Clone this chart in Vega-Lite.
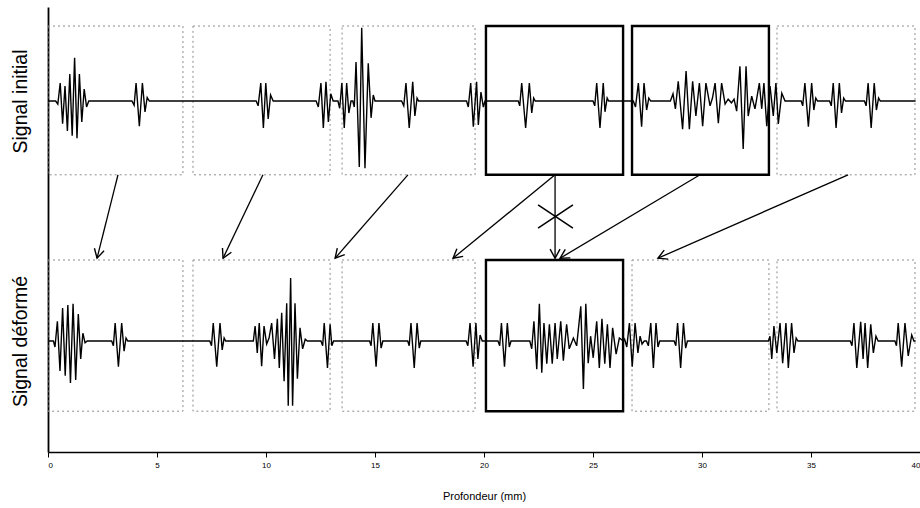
{
  "$schema": "https://vega.github.io/schema/vega-lite/v6.json",
  "width": 872,
  "height": 445,
  "autosize": "none",
  "padding": {"left": 48, "top": 7, "right": 0, "bottom": 56},
  "background": "white",
  "config": {"view": {"stroke": null}},
  "datasets": {
    "top": [
      {"x":0,"y":2},
      {"x":0.35,"y":2},{"x":0.45,"y":1.95},{"x":0.56,"y":2.3},{"x":0.67,"y":1.62},{"x":0.78,"y":2.25},{"x":0.89,"y":1.5},{"x":1.0,"y":2.45},{"x":1.11,"y":1.42},{"x":1.22,"y":2.72},{"x":1.33,"y":1.38},{"x":1.44,"y":2.45},{"x":1.55,"y":1.65},{"x":1.66,"y":2.2},{"x":1.77,"y":1.9},{"x":1.87,"y":2},
      {"x":3.85,"y":2},{"x":3.95,"y":1.93},{"x":4.04,"y":2.3},{"x":4.19,"y":1.58},{"x":4.33,"y":2.3},{"x":4.45,"y":1.82},{"x":4.55,"y":2.06},{"x":4.65,"y":2},
      {"x":9.55,"y":2},{"x":9.64,"y":1.92},{"x":9.76,"y":2.3},{"x":9.88,"y":1.55},{"x":9.99,"y":2.3},{"x":10.1,"y":1.7},{"x":10.21,"y":2.1},{"x":10.33,"y":2},
      {"x":12.3,"y":2},{"x":12.4,"y":1.9},{"x":12.52,"y":2.3},{"x":12.63,"y":1.55},{"x":12.75,"y":2.32},{"x":12.86,"y":1.65},{"x":12.97,"y":2.12},{"x":13.08,"y":2},
      {"x":13.3,"y":2},{"x":13.38,"y":1.88},{"x":13.48,"y":2.3},{"x":13.59,"y":1.55},{"x":13.7,"y":2.3},{"x":13.8,"y":1.8},{"x":13.9,"y":2},
      {"x":13.98,"y":2},{"x":14.05,"y":1.9},{"x":14.13,"y":2.65},{"x":14.28,"y":0.9},{"x":14.39,"y":3.22},{"x":14.54,"y":0.88},{"x":14.69,"y":2.63},{"x":14.82,"y":1.72},{"x":14.92,"y":2.1},{"x":15.0,"y":2},
      {"x":16.22,"y":2},{"x":16.32,"y":1.92},{"x":16.42,"y":2.3},{"x":16.57,"y":1.55},{"x":16.73,"y":2.32},{"x":16.83,"y":1.75},{"x":16.93,"y":2.05},{"x":17.0,"y":2},
      {"x":19.2,"y":2},{"x":19.28,"y":1.9},{"x":19.39,"y":2.3},{"x":19.51,"y":1.57},{"x":19.66,"y":2.32},{"x":19.74,"y":1.6},{"x":19.86,"y":2.15},{"x":19.97,"y":1.9},{"x":20.05,"y":2},
      {"x":21.57,"y":2},{"x":21.64,"y":1.92},{"x":21.73,"y":2.3},{"x":21.91,"y":1.55},{"x":22.08,"y":2.3},{"x":22.19,"y":1.8},{"x":22.28,"y":2.05},{"x":22.35,"y":2},
      {"x":25.0,"y":2},{"x":25.08,"y":1.92},{"x":25.17,"y":2.3},{"x":25.32,"y":1.55},{"x":25.47,"y":2.3},{"x":25.55,"y":1.82},{"x":25.65,"y":2.05},{"x":25.72,"y":2},
      {"x":26.85,"y":2},{"x":26.95,"y":1.9},{"x":27.08,"y":2.3},{"x":27.23,"y":1.57},{"x":27.34,"y":2.3},{"x":27.46,"y":1.85},{"x":27.56,"y":2.05},{"x":27.65,"y":2},
      {"x":28.55,"y":2},{"x":28.67,"y":2.12},{"x":28.78,"y":1.87},{"x":28.91,"y":2.33},{"x":29.11,"y":1.53},{"x":29.27,"y":2.5},{"x":29.42,"y":1.53},{"x":29.57,"y":2.33},{"x":29.72,"y":1.75},{"x":29.88,"y":2.3},{"x":30.03,"y":1.58},{"x":30.18,"y":2.3},{"x":30.37,"y":1.92},{"x":30.48,"y":2.05},{"x":30.6,"y":2.3},{"x":30.75,"y":1.63},{"x":30.9,"y":2.3},{"x":31.06,"y":1.95},{"x":31.2,"y":2.03},{"x":31.35,"y":1.97},{"x":31.47,"y":2.03},{"x":31.59,"y":1.83},{"x":31.74,"y":2.58},{"x":31.89,"y":1.2},{"x":32.02,"y":2.58},{"x":32.12,"y":1.75},{"x":32.28,"y":2.08},{"x":32.43,"y":1.87},{"x":32.63,"y":2.3},{"x":32.74,"y":1.87},{"x":32.84,"y":2.3},{"x":32.97,"y":1.58},{"x":33.12,"y":2.25},{"x":33.27,"y":1.75},{"x":33.39,"y":2.3},{"x":33.5,"y":1.62},{"x":33.66,"y":2.13},{"x":33.81,"y":2},
      {"x":34.55,"y":2},{"x":34.62,"y":1.92},{"x":34.72,"y":2.3},{"x":34.88,"y":1.57},{"x":35.03,"y":2.3},{"x":35.13,"y":1.85},{"x":35.22,"y":2.05},{"x":35.3,"y":2},
      {"x":35.85,"y":2},{"x":35.93,"y":1.92},{"x":36.02,"y":2.3},{"x":36.15,"y":1.55},{"x":36.3,"y":2.3},{"x":36.4,"y":1.8},{"x":36.5,"y":2.05},{"x":36.58,"y":2},
      {"x":37.45,"y":2},{"x":37.53,"y":1.92},{"x":37.62,"y":2.3},{"x":37.76,"y":1.55},{"x":37.9,"y":2.3},{"x":38.0,"y":1.85},{"x":38.1,"y":2.05},{"x":38.18,"y":2},
      {"x":39.8,"y":2}
    ],
    "bot": [
      {"x":0,"y":-2},
      {"x":0.25,"y":-2},{"x":0.32,"y":-2.1},{"x":0.43,"y":-1.67},{"x":0.55,"y":-2.5},{"x":0.67,"y":-1.45},{"x":0.79,"y":-2.58},{"x":0.91,"y":-1.4},{"x":1.03,"y":-2.7},{"x":1.15,"y":-1.38},{"x":1.27,"y":-2.65},{"x":1.39,"y":-1.55},{"x":1.5,"y":-2.3},{"x":1.6,"y":-1.87},{"x":1.7,"y":-2.03},{"x":1.8,"y":-2},
      {"x":2.92,"y":-2},{"x":3.0,"y":-2.08},{"x":3.08,"y":-1.7},{"x":3.23,"y":-2.43},{"x":3.38,"y":-1.7},{"x":3.49,"y":-2.17},{"x":3.58,"y":-1.95},{"x":3.66,"y":-2},
      {"x":7.42,"y":-2},{"x":7.5,"y":-2.08},{"x":7.58,"y":-1.7},{"x":7.74,"y":-2.43},{"x":7.89,"y":-1.7},{"x":7.99,"y":-2.15},{"x":8.08,"y":-1.95},{"x":8.15,"y":-2},
      {"x":9.42,"y":-2},{"x":9.5,"y":-1.75},{"x":9.6,"y":-2.2},{"x":9.69,"y":-1.7},{"x":9.8,"y":-2.42},{"x":9.91,"y":-1.75},{"x":10.03,"y":-2.05},{"x":10.14,"y":-1.95},{"x":10.26,"y":-1.7},{"x":10.39,"y":-2.3},{"x":10.52,"y":-1.63},{"x":10.61,"y":-2.45},{"x":10.72,"y":-1.53},{"x":10.83,"y":-2.67},{"x":10.95,"y":-1.37},{"x":11.02,"y":-3.08},{"x":11.13,"y":-0.95},{"x":11.22,"y":-3.08},{"x":11.33,"y":-1.37},{"x":11.44,"y":-2.63},{"x":11.56,"y":-1.78},{"x":11.68,"y":-2.13},{"x":11.8,"y":-1.97},{"x":11.9,"y":-2},
      {"x":12.52,"y":-2},{"x":12.6,"y":-2.08},{"x":12.67,"y":-1.7},{"x":12.82,"y":-2.45},{"x":12.94,"y":-1.72},{"x":13.02,"y":-2.08},{"x":13.1,"y":-2},
      {"x":14.75,"y":-2},{"x":14.82,"y":-2.08},{"x":14.9,"y":-1.7},{"x":15.05,"y":-2.43},{"x":15.18,"y":-1.7},{"x":15.28,"y":-2.12},{"x":15.36,"y":-2},
      {"x":16.5,"y":-2},{"x":16.57,"y":-2.08},{"x":16.65,"y":-1.7},{"x":16.8,"y":-2.45},{"x":16.93,"y":-1.7},{"x":17.03,"y":-2.12},{"x":17.1,"y":-2},
      {"x":19.18,"y":-2},{"x":19.26,"y":-2.08},{"x":19.36,"y":-1.7},{"x":19.5,"y":-2.43},{"x":19.63,"y":-1.7},{"x":19.72,"y":-2.3},{"x":19.82,"y":-1.9},{"x":19.92,"y":-2},
      {"x":20.64,"y":-2},{"x":20.72,"y":-2.08},{"x":20.8,"y":-1.7},{"x":20.94,"y":-2.43},{"x":21.07,"y":-1.7},{"x":21.16,"y":-2.1},{"x":21.24,"y":-2},
      {"x":22.1,"y":-2},{"x":22.19,"y":-2.13},{"x":22.29,"y":-1.67},{"x":22.42,"y":-2.47},{"x":22.54,"y":-1.38},{"x":22.65,"y":-2.53},{"x":22.75,"y":-1.7},{"x":22.88,"y":-2.38},{"x":23.0,"y":-1.72},{"x":23.13,"y":-2.38},{"x":23.26,"y":-1.7},{"x":23.36,"y":-2.3},{"x":23.52,"y":-1.67},{"x":23.64,"y":-2.33},{"x":23.79,"y":-1.72},{"x":23.91,"y":-2.13},{"x":24.1,"y":-1.95},{"x":24.25,"y":-2.08},{"x":24.44,"y":-1.42},{"x":24.56,"y":-2.8},{"x":24.67,"y":-1.38},{"x":24.78,"y":-2.37},{"x":24.89,"y":-1.92},{"x":25.01,"y":-2.28},{"x":25.17,"y":-1.67},{"x":25.29,"y":-2.45},{"x":25.41,"y":-1.63},{"x":25.54,"y":-2.38},{"x":25.66,"y":-1.72},{"x":25.78,"y":-2.45},{"x":25.9,"y":-1.78},{"x":26.06,"y":-2.22},{"x":26.21,"y":-1.95},{"x":26.39,"y":-2},
      {"x":26.45,"y":-1.97},{"x":26.55,"y":-2.1},{"x":26.67,"y":-1.7},{"x":26.8,"y":-2.43},{"x":26.93,"y":-1.7},{"x":27.06,"y":-2.2},{"x":27.16,"y":-1.92},{"x":27.25,"y":-2.05},{"x":27.35,"y":-2},
      {"x":27.45,"y":-2},{"x":27.54,"y":-2.08},{"x":27.65,"y":-1.7},{"x":27.77,"y":-2.45},{"x":27.89,"y":-1.7},{"x":27.98,"y":-2.1},{"x":28.06,"y":-2},
      {"x":28.72,"y":-2},{"x":28.8,"y":-2.08},{"x":28.88,"y":-1.7},{"x":29.02,"y":-2.45},{"x":29.15,"y":-1.7},{"x":29.25,"y":-2.12},{"x":29.33,"y":-2},
      {"x":33.05,"y":-2},{"x":33.12,"y":-1.92},{"x":33.2,"y":-2.3},{"x":33.3,"y":-1.75},{"x":33.43,"y":-2.2},{"x":33.58,"y":-1.7},{"x":33.7,"y":-2.37},{"x":33.85,"y":-1.7},{"x":33.96,"y":-2.45},{"x":34.11,"y":-1.7},{"x":34.22,"y":-2.2},{"x":34.32,"y":-1.95},{"x":34.4,"y":-2},
      {"x":36.8,"y":-2},{"x":36.88,"y":-2.08},{"x":36.97,"y":-1.7},{"x":37.1,"y":-2.45},{"x":37.28,"y":-1.68},{"x":37.39,"y":-2.3},{"x":37.48,"y":-1.7},{"x":37.6,"y":-2.45},{"x":37.74,"y":-1.72},{"x":37.86,"y":-2.2},{"x":37.98,"y":-1.92},{"x":38.08,"y":-2},
      {"x":38.85,"y":-2},{"x":38.92,"y":-2.08},{"x":39.0,"y":-1.7},{"x":39.16,"y":-2.43},{"x":39.31,"y":-1.7},{"x":39.46,"y":-2.25},{"x":39.62,"y":-1.9},{"x":39.72,"y":-2},{"x":39.8,"y":-2}
    ],
    "dash": [
      {"x":0,"x2":6.19,"y":0.77,"y2":3.25},
      {"x":6.65,"x2":12.94,"y":0.77,"y2":3.25},
      {"x":13.49,"x2":19.59,"y":0.77,"y2":3.25},
      {"x":33.44,"x2":39.77,"y":0.77,"y2":3.25},
      {"x":0,"x2":6.19,"y":-3.17,"y2":-0.65},
      {"x":6.65,"x2":12.94,"y":-3.17,"y2":-0.65},
      {"x":13.49,"x2":19.59,"y":-3.17,"y2":-0.65},
      {"x":26.79,"x2":33.07,"y":-3.17,"y2":-0.65},
      {"x":33.44,"x2":39.77,"y":-3.17,"y2":-0.65}
    ],
    "solid": [
      {"x":20.09,"x2":26.38,"y":0.77,"y2":3.25},
      {"x":26.79,"x2":33.07,"y":0.77,"y2":3.25},
      {"x":20.09,"x2":26.38,"y":-3.17,"y2":-0.65}
    ],
    "arrows": [
      {"x":3.21,"y":0.77,"x2":2.25,"y2":-0.62},
      {"x":9.86,"y":0.77,"x2":8.03,"y2":-0.62},
      {"x":16.51,"y":0.77,"x2":13.17,"y2":-0.62},
      {"x":23.26,"y":0.77,"x2":18.58,"y2":-0.62},
      {"x":23.26,"y":0.77,"x2":23.26,"y2":-0.62},
      {"x":29.91,"y":0.77,"x2":23.49,"y2":-0.62},
      {"x":36.7,"y":0.77,"x2":27.98,"y2":-0.62}
    ],
    "cross": [
      {"x":22.48,"y":0.267,"x2":24.08,"y2":-0.117},
      {"x":22.48,"y":-0.117,"x2":24.08,"y2":0.267}
    ]
  },
  "encoding": {
    "x": {
      "field": "x", "type": "quantitative",
      "scale": {"domain": [0, 40], "nice": false, "zero": false},
      "axis": {
        "values": [0, 5, 10, 15, 20, 25, 30, 35, 40],
        "format": "d",
        "grid": false,
        "domainColor": "black", "domainWidth": 1.5,
        "tickColor": "black", "tickSize": 5, "tickWidth": 1,
        "labelFont": "Liberation Sans", "labelFontSize": 8, "labelColor": "black",
        "labelFlush": true, "labelPadding": 4, "labelOverlap": false,
        "title": "Profondeur (mm)",
        "titleFont": "Liberation Sans", "titleFontSize": 11, "titleFontWeight": "normal", "titleColor": "black",
        "titlePadding": 21
      }
    },
    "y": {
      "field": "y", "type": "quantitative",
      "scale": {"domain": [-3.85, 3.567], "nice": false, "zero": false},
      "axis": {
        "values": [2, -2],
        "labelExpr": "datum.value > 0 ? 'Signal initial' : 'Signal déformé'",
        "labelAngle": -90,
        "labelAlign": "center",
        "labelBaseline": "bottom",
        "labelPadding": 18,
        "labelFont": "Liberation Sans",
        "labelFontSize": 19.5,
        "labelColor": "black",
        "labelOverlap": false,
        "labelBound": false,
        "ticks": false,
        "grid": false,
        "domainColor": "black", "domainWidth": 1.8,
        "title": null
      }
    }
  },
  "layer": [
    {
      "data": {"name": "dash"},
      "mark": {"type": "rect", "filled": false, "stroke": "#8c8c8c", "strokeWidth": 1, "strokeDash": [2, 3]},
      "encoding": {"x2": {"field": "x2"}, "y2": {"field": "y2"}}
    },
    {
      "data": {"name": "top"},
      "mark": {"type": "line", "stroke": "black", "strokeWidth": 1.4}
    },
    {
      "data": {"name": "bot"},
      "mark": {"type": "line", "stroke": "black", "strokeWidth": 1.4}
    },
    {
      "data": {"name": "solid"},
      "mark": {"type": "rect", "filled": false, "stroke": "black", "strokeWidth": 2.4},
      "encoding": {"x2": {"field": "x2"}, "y2": {"field": "y2"}}
    },
    {
      "data": {"name": "arrows"},
      "mark": {"type": "rule", "stroke": "black", "strokeWidth": 1.3},
      "encoding": {"x2": {"field": "x2"}, "y2": {"field": "y2"}}
    },
    {
      "data": {"name": "cross"},
      "mark": {"type": "rule", "stroke": "black", "strokeWidth": 1.5},
      "encoding": {"x2": {"field": "x2"}, "y2": {"field": "y2"}}
    },
    {
      "data": {"name": "arrows"},
      "transform": [{"calculate": "atan2((datum.x2 - datum.x) * 21.8, (datum.y2 - datum.y) * 60) * 180 / PI", "as": "ang"}],
      "mark": {"type": "point", "shape": "M-0.55,1L0,0L0.55,1", "filled": false, "size": 324, "stroke": "black", "strokeWidth": 1.4, "opacity": 1},
      "encoding": {
        "x": {"field": "x2", "type": "quantitative"},
        "y": {"field": "y2", "type": "quantitative"},
        "angle": {"field": "ang", "type": "quantitative", "scale": null}
      }
    }
  ]
}
